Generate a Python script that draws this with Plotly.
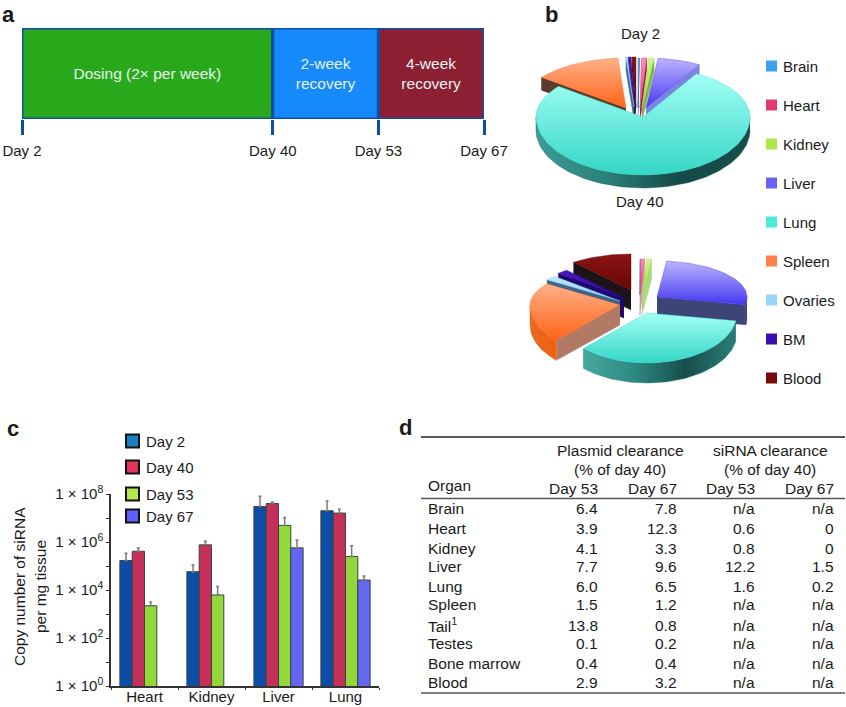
import math
import plotly.graph_objects as go

FONT = "Liberation Sans"
TEXT = "#1a1a1a"

# ---- panel a data
phase_labels = ["Dosing (2× per week)", "2-week<br>recovery", "4-week<br>recovery"]
phase_spans = [38, 16, 16]          # schematic widths, the drawing is not to scale
phase_colors = ["#2aa81c", "#1689fb", "#8d1f33"]
timeline_ticks = ["Day 2", "Day 40", "Day 53", "Day 67"]

# ---- panel b data (percent of total)
organs = ["Brain", "Heart", "Kidney", "Liver", "Lung", "Spleen", "Ovaries", "BM", "Blood"]
day2_share = [0.2, 0.8, 0.8, 6.5, 77.2, 13.3, 0.2, 0.4, 0.6]
day40_share = [0.1, 0.7, 0.9, 25.8, 35.0, 22.5, 2.0, 2.0, 11.0]

# ---- panel c data
tissues = ["Heart", "Kidney", "Liver", "Lung"]
day2_copy = [1.7e5, 5.8e4, 3.0e7, 2.0e7]
day40_copy = [4.1e5, 7.6e5, 4.0e7, 1.6e7]
day53_copy = [2.2e3, 6.2e3, 4.9e6, 2.5e5]
day67_copy = [None, None, 5.7e5, 2.6e4]
day2_top = [3.4e5, 1.1e5, 8.0e7, 5.1e7]
day40_top = [5.7e5, 1.08e6, 4.6e7, 2.3e7]
day53_top = [3.2e3, 1.4e4, 1.05e7, 6.9e5]
day67_top = [None, None, 1.2e6, 3.8e4]
series_names = ["Day 2", "Day 40", "Day 53", "Day 67"]
major_decades = [0, 2, 4, 6, 8]
minor_decades = [1, 3, 5, 7]

# ---- panel d data
table_organs = ["Brain", "Heart", "Kidney", "Liver", "Lung", "Spleen", "Tail<sup>1</sup>",
                "Testes", "Bone marrow", "Blood"]
plasmid_53 = ["6.4", "3.9", "4.1", "7.7", "6.0", "1.5", "13.8", "0.1", "0.4", "2.9"]
plasmid_67 = ["7.8", "12.3", "3.3", "9.6", "6.5", "1.2", "0.8", "0.2", "0.4", "3.2"]
sirna_53 = ["n/a", "0.6", "0.8", "12.2", "1.6", "n/a", "n/a", "n/a", "n/a", "n/a"]
sirna_67 = ["n/a", "0", "0", "1.5", "0.2", "n/a", "n/a", "n/a", "n/a", "n/a"]

# ---- styles
TOP = {"Brain": ("#1878d0", "#58b0f0"), "Heart": ("#e03070", "#ff90b8"),
       "Kidney": ("#90e030", "#d0f890"), "Liver": ("#4438f0", "#bcb4ff"),
       "Lung": ("#34d6c6", "#a4fff6"), "Spleen": ("#ff6418", "#ffb088"),
       "Ovaries": ("#88ccfa", "#c0e6ff"), "BM": ("#3008a0", "#4a18c0"),
       "Blood": ("#6a0404", "#8c1414")}
WALL_D2 = {"Brain": "#104070", "Heart": "#902050", "Kidney": "#80b050", "Liver": "#7c84e0",
           "Lung": "#2a8a82", "Spleen": "#5a3a2a", "Ovaries": "#3a6a90", "BM": "#20086a",
           "Blood": "#3a0a0a"}
WALL_D40 = {"Brain": "#104070", "Heart": "#d890b0", "Kidney": "#a8d880", "Liver": "#3c4478",
            "Lung": "#2a8a82", "Spleen": "#b07a64", "Ovaries": "#3a6488", "BM": "#20086a",
            "Blood": "#1c1418"}
OUTER_D2 = {"Lung": ["#3a9e96", "#2a8078", "#154a48", "#164e4a"], "Spleen": ["#f06418", "#d05810"]}
OUTER_D40 = {"Lung": ["#47a89e", "#2c8a82", "#174e4c", "#2a7e78"], "Spleen": ["#e86a20", "#f06010"],
             "Liver": ["#3c4478", "#3c4478"]}
SERIES_COLORS = ["#0b4da8", "#c5305a", "#92d83a", "#6666f5"]
KEY_COLORS = ["#1a7fc0", "#e0365a", "#b3e84f", "#6060ff"]
SWATCH = ["#3fa0ee", "#e03a74", "#a8ea50", "#6a62f8", "#48ecd8", "#ff8048", "#98d4fc", "#3a0fb0", "#780a0a"]

D2_GEOM = dict(cx=642, cy=112, rx=107, ry_top=50, ry_bot=58, depth=13,
               offs={"Brain": (-4, -4), "Heart": (-2, -4), "Kidney": (0, -4), "Liver": (4, -4),
                     "Lung": (1, 5), "Spleen": (-16, -4), "Ovaries": (-8, -5), "BM": (-7, -5),
                     "Blood": (-6, -5)})
D40_GEOM = dict(cx=640, cy=305, rx=90, ry_top=36, ry_bot=50, depth=20,
                offs={"Brain": (0, -10), "Heart": (0, -10), "Kidney": (2, -10), "Liver": (17, -8),
                      "Lung": (7, 8), "Spleen": (-20, 0), "Ovaries": (-20, -4), "BM": (-16, -7),
                      "Blood": (-9, -15)})

fig = go.Figure()
annotations = []


def label(x, y, text, size=15, anchor="left", color=TEXT, bold=False, angle=0):
    annotations.append(dict(x=x, y=y, xref="x", yref="y", text=f"<b>{text}</b>" if bold else text,
                            showarrow=False, xanchor=anchor, yanchor="middle", textangle=angle,
                            font=dict(family=FONT, size=size, color=color)))


def poly(xs, ys, fill, scale=None, kind="vertical"):
    trace = dict(x=xs, y=ys, mode="lines", line=dict(width=0.4, color=fill), fill="toself",
                 fillcolor=fill, hoverinfo="skip", xaxis="x", yaxis="y")
    if scale:
        n = len(scale) - 1
        trace["fillgradient"] = dict(type=kind, colorscale=[[i / n, c] for i, c in enumerate(scale)])
    fig.add_trace(go.Scatter(**trace))


def draw_pie(shares, geom, walls, outers):
    total = sum(shares)
    slices = []
    acc = 0.0
    for name, val in zip(organs, shares):
        slices.append((name, acc / total * 360, (acc + val) / total * 360))
        acc += val

    def pt(a, cx, cy):
        r = math.radians(a)
        c = math.cos(r)
        return cx + geom["rx"] * math.sin(r), cy - (geom["ry_top"] if c > 0 else geom["ry_bot"]) * c

    d = geom["depth"]
    for name, s, e in sorted(slices, key=lambda w: -math.cos(math.radians((w[1] + w[2]) / 2))):
        ox, oy = geom["offs"][name]
        cx, cy = geom["cx"] + ox, geom["cy"] + oy
        n = max(3, int((e - s) / 2))
        angs = [s + (e - s) * i / n for i in range(n + 1)]
        arc = [pt(a, cx, cy) for a in angs]
        if 180 < s < 360:
            x1, y1 = pt(s, cx, cy)
            poly([cx, x1, x1, cx], [cy, y1, y1 + d, cy + d], walls[name])
        if 0 < e < 180:
            x1, y1 = pt(e, cx, cy)
            poly([cx, x1, x1, cx], [cy, y1, y1 + d, cy + d], walls[name])
        lo, hi = max(s, 90), min(e, 270)
        if hi > lo:
            m = max(3, int((hi - lo) / 2))
            pts = [pt(lo + (hi - lo) * i / m, cx, cy) for i in range(m + 1)]
            xs = [p[0] for p in pts] + [p[0] for p in reversed(pts)]
            ys = [p[1] for p in pts] + [p[1] + d for p in reversed(pts)]
            scale = outers.get(name, [walls[name], walls[name]])
            poly(xs, ys, scale[-1], scale, "horizontal")
        poly([cx] + [p[0] for p in arc] + [cx], [cy] + [p[1] for p in arc] + [cy],
             TOP[name][0], list(TOP[name]))


# panel letters
label(0, 14, "a", 22, bold=True)
label(543, 14, "b", 22, bold=True)
label(5, 428, "c", 22, bold=True)
label(397, 427, "d", 22, bold=True)

# panel a: one row, one bar per phase
fig.add_trace(go.Bar(
    x=phase_spans, y=[0, 0, 0], base=[0, phase_spans[0], phase_spans[0] + phase_spans[1]],
    orientation="h", width=1, xaxis="x2", yaxis="y2", text=phase_labels,
    textposition="inside", insidetextanchor="middle", textangle=0, cliponaxis=False,
    insidetextfont=dict(family=FONT, size=15.5, color="#e6f3ee"),
    marker=dict(color=phase_colors, line=dict(color="#0f4ea8", width=3)), hoverinfo="skip"))

# panel b
draw_pie(day2_share, D2_GEOM, WALL_D2, OUTER_D2)
draw_pie(day40_share, D40_GEOM, WALL_D40, OUTER_D40)
label(640, 33, "Day 2", 15, "center")
label(640, 201, "Day 40", 15, "center")
fig.add_trace(go.Scatter(
    x=[771.5] * len(organs), y=[66 + 39 * i for i in range(len(organs))], mode="markers",
    marker=dict(symbol="square", size=11, color=SWATCH), xaxis="x", yaxis="y", hoverinfo="skip"))
for i, name in enumerate(organs):
    label(781, 66 + 39 * i, name, 15)

# panel c
rows = [(day2_copy, day2_top), (day40_copy, day40_top), (day53_copy, day53_top), (day67_copy, day67_top)]
for name, (vals, tops), col in zip(series_names, rows, SERIES_COLORS):
    err = [None if v is None else t - v for v, t in zip(vals, tops)]
    fig.add_trace(go.Bar(
        x=tissues, y=vals, name=name, xaxis="x3", yaxis="y3",
        marker=dict(color=col, line=dict(color="#36463c", width=1)),
        error_y=dict(type="data", array=err, symmetric=False,
                     arrayminus=[0] * len(err), color="#7a7a7a", thickness=1.5, width=1.5)))
key_y = [441, 467, 494, 516]
fig.add_trace(go.Scatter(
    x=[132.5] * 4, y=key_y, mode="markers", xaxis="x", yaxis="y", hoverinfo="skip",
    marker=dict(symbol="square", size=13, color=KEY_COLORS, line=dict(color="#111", width=2))))
for yy, name in zip(key_y, series_names):
    label(144, yy, name, 15)
label(19, 587, "Copy number of siRNA", 15.5, "center", angle=-90)
label(40, 587, "per mg tissue", 15.5, "center", angle=-90)

# panel d
TS = 15.5
label(620, 450, "Plasmid clearance", TS, "center")
label(620, 469, "(% of day 40)", TS, "center")
label(770, 450, "siRNA clearance", TS, "center")
label(770, 469, "(% of day 40)", TS, "center")
label(426, 485, "Organ", TS)
col_right = [600, 679, 757, 836]
for k, xr in enumerate(col_right):
    label(xr, 488, series_names[2 + k % 2], TS, "right")
row_y = [508, 528, 548, 566, 586, 604, 625, 643, 663, 682]
for j, org in enumerate(table_organs):
    label(426, row_y[j], org, TS)
    for xr, col in zip(col_right, [plasmid_53, plasmid_67, sirna_53, sirna_67]):
        label(xr, row_y[j], col[j], TS, "right")
rules = [(437, 1.4, "#222"), (498.5, 1.6, "#555"), (693, 1.6, "#555")]
shapes = [dict(type="line", xref="x", yref="y", x0=421, x1=845, y0=yy, y1=yy,
               line=dict(color=c, width=w)) for yy, w, c in rules]

H, W = 707.0, 846.0
fig.update_layout(
    width=846, height=707, autosize=False, margin=dict(l=0, r=0, t=0, b=0, autoexpand=False),
    paper_bgcolor="white", plot_bgcolor="rgba(0,0,0,0)", showlegend=False,
    barmode="group", bargap=0.265, bargroupgap=0, annotations=annotations, shapes=shapes,
    font=dict(family=FONT, size=15, color=TEXT),
    xaxis=dict(domain=[0, 1], range=[0, 846], visible=False, fixedrange=True),
    yaxis=dict(domain=[0, 1], range=[707, 0], visible=False, fixedrange=True),
    xaxis2=dict(domain=[22 / W, 484 / W], range=[0, sum(phase_spans)], anchor="y2",
                tickmode="array",
                tickvals=[0, phase_spans[0], phase_spans[0] + phase_spans[1], sum(phase_spans)],
                ticktext=timeline_ticks, ticks="outside", ticklen=15, tickwidth=3, tickcolor="#0f4ea8",
                ticklabelstandoff=3,
                showgrid=False, zeroline=False, showline=False, tickfont=dict(family=FONT, size=15, color=TEXT)),
    yaxis2=dict(domain=[1 - 119 / H, 1 - 28 / H], range=[-0.5, 0.5], anchor="x2", visible=False),
    xaxis3=dict(domain=[111 / W, 379 / W], anchor="y3", type="category", categoryarray=tissues,
                tickson="boundaries", ticks="outside", ticklen=2, showline=True, linecolor="#333",
                linewidth=1.5, tickcolor="#333", showgrid=False, zeroline=False,
                ticklabelstandoff=-4,
                tickfont=dict(family=FONT, size=15, color=TEXT)),
    yaxis3=dict(domain=[1 - 686 / H, 1 - 494 / H], anchor="x3", type="log", range=[0, 8],
                tickmode="array", tickvals=[10 ** n for n in major_decades],
                ticktext=[f"1 × 10<sup>{n}</sup>" for n in major_decades],
                minor=dict(tickmode="array", tickvals=[10 ** n for n in minor_decades],
                           ticks="outside", ticklen=3, tickcolor="#333"),
                ticks="outside", ticklen=3, showline=True, linecolor="#333", linewidth=1.5,
                tickcolor="#333", showgrid=False, zeroline=False,
                tickfont=dict(family=FONT, size=15, color=TEXT)),
)
fig.write_html("out.html", config=dict(displayModeBar=False),
               post_script="document.body.style.margin='0';document.documentElement.style.overflow='hidden';")
